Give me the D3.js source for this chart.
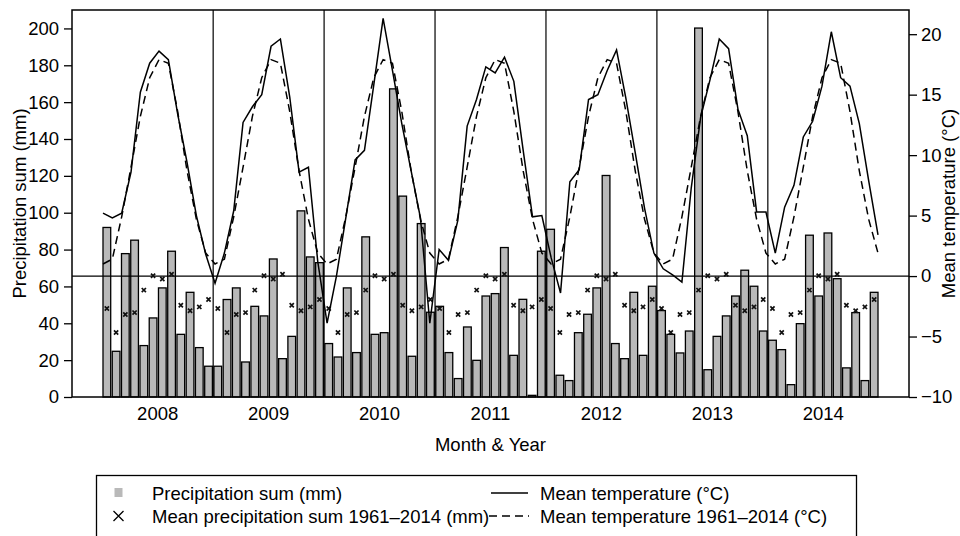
<!DOCTYPE html>
<html>
<head>
<meta charset="utf-8">
<script src="https://cdn.jsdelivr.net/npm/d3@7/dist/d3.min.js"></script>
<style>
  html, body { margin: 0; padding: 0; background: #fff; }
  svg { display: block; font-family: "Liberation Sans", Arial, Helvetica, sans-serif; }
</style>
</head>
<body>
<svg id="chart" width="960" height="536"></svg>
<script>
// Monthly climate record, Jan 2008 – Dec 2014
const years = [2008, 2009, 2010, 2011, 2012, 2013, 2014];
const months = ["Jan","Feb","Mar","Apr","May","Jun","Jul","Aug","Sep","Oct","Nov","Dec"];

// Monthly precipitation sum (mm), 84 months
const precipitation = [
  92.0, 24.8, 77.8, 85.1, 27.9, 42.9, 59.2, 79.1, 34.0, 56.8, 26.8, 16.7,
  16.7, 52.9, 59.2, 19.0, 49.2, 44.0, 74.9, 20.8, 32.9, 101.0, 76.0, 72.9,
  29.0, 21.7, 59.2, 24.1, 86.9, 34.0, 34.9, 167.2, 109.0, 22.1, 94.1, 46.0,
  49.2, 24.1, 10.0, 38.0, 19.9, 54.8, 56.1, 81.1, 22.6, 53.0, 0.9, 79.1,
  91.0, 11.8, 8.9, 34.9, 44.9, 59.2, 120.2, 29.0, 20.8, 56.8, 22.6, 60.1,
  46.9, 34.0, 23.9, 35.8, 200.2, 14.8, 32.9, 44.0, 54.8, 68.8, 60.1, 35.8,
  30.8, 25.7, 6.7, 39.8, 87.8, 54.8, 89.0, 64.2, 15.8, 45.8, 8.9, 56.8
];

// Long-term monthly mean precipitation 1961–2014 (mm)
const meanPrecipitation = [48.0, 35.0, 44.8, 45.8, 58.0, 65.8, 64.0, 66.6, 49.8, 46.8, 48.9, 52.9];

// Monthly mean temperature (°C), 84 months
const temperature = [
  5.2, 4.8, 5.2, 8.6, 15.2, 17.6, 18.6, 17.9, 13.4, 9.4, 5.0, 1.8,
  -0.6, 1.9, 5.4, 12.7, 14.0, 15.0, 19.0, 19.6, 14.8, 8.6, 9.0, 1.2,
  -3.9, 0.0, 4.8, 9.6, 10.4, 15.8, 21.3, 17.0, 12.6, 8.7, 4.8, -3.9,
  2.2, 1.3, 4.6, 12.4, 14.6, 17.3, 16.8, 18.1, 16.1, 10.4, 4.9, 5.0,
  1.5, -1.4, 7.8, 8.8, 14.6, 15.0, 17.0, 18.7, 14.7, 10.2, 5.6, 1.9,
  0.6, 0.1, -0.5, 7.3, 13.1, 16.2, 19.6, 18.8, 13.8, 11.6, 5.3, 5.3,
  1.9, 5.7, 7.5, 11.5, 12.8, 15.7, 20.2, 16.4, 15.7, 12.6, 7.9, 3.4
];

// Long-term monthly mean temperature 1961–2014 (°C)
const meanTemperature = [1.0, 1.4, 4.9, 9.0, 13.2, 16.4, 17.9, 17.6, 13.6, 8.7, 4.7, 1.9];

const precipTicks = [0, 20, 40, 60, 80, 100, 120, 140, 160, 180, 200];
const tempTicks = [-10, -5, 0, 5, 10, 15, 20];

// ---- layout ----
const plot = { left: 72, right: 909, top: 10, bottom: 397 };
const svg = d3.select("#chart");
const axisFont = 18.5, legendFont = 18.5;

const n = precipitation.length;
// bar slots: width 1 with 0.2 spacing, extended by 4% on both sides
const barSpace = 0.2, barWidth = 1;
const barLeft = i => barSpace + i * (barSpace + barWidth);
const bxMin = barLeft(0), bxMax = barLeft(n - 1) + barWidth;
const bPad = 0.04 * (bxMax - bxMin);
const xBar = d3.scaleLinear().domain([bxMin - bPad, bxMax + bPad]).range([plot.left, plot.right]);

// line series use month numbers 1..84, also with 4% padding
const lPad = 0.04 * (n - 1);
const xLine = d3.scaleLinear().domain([1 - lPad, n + lPad]).range([plot.left, plot.right]);

const yP = d3.scaleLinear().domain([0, 210]).range([plot.bottom, plot.top]);
const yT = d3.scaleLinear().domain([-10, 22]).range([plot.bottom, plot.top]);

const monthly = precipitation.map((p, i) => ({
  i, p, t: temperature[i],
  mp: meanPrecipitation[i % 12], mt: meanTemperature[i % 12]
}));

// ---- bars ----
svg.append("g").selectAll("rect").data(monthly).join("rect")
  .attr("x", d => xBar(barLeft(d.i)))
  .attr("y", d => yP(d.p))
  .attr("width", d => xBar(barLeft(d.i) + barWidth) - xBar(barLeft(d.i)))
  .attr("height", d => yP(0) - yP(d.p))
  .attr("fill", "#b9b9b9")
  .attr("stroke", "#000")
  .attr("stroke-width", 1.3);

// ---- year separators and zero line ----
const sepG = svg.append("g").attr("stroke", "#000").attr("stroke-width", 1.2);
years.slice(1).forEach((y, k) => {
  const xv = xBar(barLeft(12 * (k + 1)) - barSpace / 2);
  sepG.append("line").attr("x1", xv).attr("x2", xv).attr("y1", plot.top).attr("y2", plot.bottom);
});
sepG.append("line")
  .attr("x1", plot.left).attr("x2", plot.right)
  .attr("y1", yT(0)).attr("y2", yT(0));

// ---- long-term precipitation markers ----
const cross = (s) => `M${-s},${-s}L${s},${s}M${-s},${s}L${s},${-s}`;
svg.append("g").selectAll("path").data(monthly).join("path")
  .attr("transform", d => `translate(${xBar(barLeft(d.i) + barWidth / 2)},${yP(d.mp)})`)
  .attr("d", cross(2.1))
  .attr("fill", "none")
  .attr("stroke", "#111")
  .attr("stroke-width", 1.7);

// ---- temperature lines ----
const tLine = d3.line().x(d => xLine(d.i + 1)).y(d => yT(d.t));
const mtLine = d3.line().x(d => xLine(d.i + 1)).y(d => yT(d.mt));
svg.append("path").datum(monthly).attr("d", mtLine)
  .attr("fill", "none").attr("stroke", "#000").attr("stroke-width", 1.5)
  .attr("stroke-dasharray", "8,5");
svg.append("path").datum(monthly).attr("d", tLine)
  .attr("fill", "none").attr("stroke", "#000").attr("stroke-width", 1.5)
  .attr("stroke-linejoin", "miter");

// ---- plot frame ----
svg.append("rect")
  .attr("x", plot.left).attr("y", plot.top)
  .attr("width", plot.right - plot.left).attr("height", plot.bottom - plot.top)
  .attr("fill", "none").attr("stroke", "#000").attr("stroke-width", 1.5);

// ---- axes ----
const leftAxis = d3.axisLeft(yP).tickValues(precipTicks).tickSize(8).tickPadding(5);
const gL = svg.append("g").attr("transform", `translate(${plot.left},0)`).call(leftAxis);
const rightAxis = d3.axisRight(yT).tickValues(tempTicks).tickSize(8).tickPadding(4)
  .tickFormat(d => d < 0 ? "\u2212" + Math.abs(d) : d);
const gR = svg.append("g").attr("transform", `translate(${plot.right},0)`).call(rightAxis);
[gL, gR].forEach(g => {
  g.select(".domain").remove();
  g.selectAll("line").attr("stroke", "#000").attr("stroke-width", 1.3);
  g.selectAll("text").attr("font-size", axisFont).attr("fill", "#000")
    .attr("font-family", "'Liberation Sans', Arial, sans-serif");
});

// year labels
svg.append("g").selectAll("text").data(years).join("text")
  .attr("x", (y, k) => xBar((barLeft(12 * k) + barLeft(12 * k + 11) + barWidth) / 2))
  .attr("y", 420)
  .attr("text-anchor", "middle")
  .attr("font-size", axisFont)
  .text(d => d);

svg.append("text")
  .attr("x", (plot.left + plot.right) / 2).attr("y", 451)
  .attr("text-anchor", "middle").attr("font-size", axisFont)
  .text("Month & Year");

svg.append("text")
  .attr("transform", `translate(26,${(plot.top + plot.bottom) / 2}) rotate(-90)`)
  .attr("text-anchor", "middle").attr("font-size", axisFont)
  .text("Precipitation sum (mm)");

svg.append("text")
  .attr("transform", `translate(955,${(plot.top + plot.bottom) / 2}) rotate(-90)`)
  .attr("text-anchor", "middle").attr("font-size", axisFont)
  .text("Mean temperature (°C)");

// ---- legend ----
const lg = svg.append("g");
lg.append("rect").attr("x", 96.5).attr("y", 475.5).attr("width", 760).attr("height", 80)
  .attr("fill", "none").attr("stroke", "#000").attr("stroke-width", 1.3);
lg.append("rect").attr("x", 114.5).attr("y", 488).attr("width", 8).attr("height", 9)
  .attr("fill", "#b9b9b9");
lg.append("path").attr("transform", "translate(118.5,516)").attr("d", cross(5))
  .attr("fill", "none").attr("stroke", "#000").attr("stroke-width", 1.3);
lg.append("line").attr("x1", 491).attr("x2", 528).attr("y1", 493).attr("y2", 493)
  .attr("stroke", "#000").attr("stroke-width", 1.5);
lg.append("line").attr("x1", 489).attr("x2", 529).attr("y1", 516).attr("y2", 516)
  .attr("stroke", "#000").attr("stroke-width", 1.5).attr("stroke-dasharray", "8,5");
const legendItems = [
  { x: 152, y: 499.5, t: "Precipitation sum (mm)" },
  { x: 152, y: 522.5, t: "Mean precipitation sum 1961\u20132014 (mm)" },
  { x: 540, y: 499.5, t: "Mean temperature (°C)" },
  { x: 540, y: 522.5, t: "Mean temperature 1961\u20132014 (°C)" }
];
lg.selectAll("text.item").data(legendItems).join("text")
  .attr("class", "item")
  .attr("x", d => d.x).attr("y", d => d.y)
  .attr("font-size", legendFont)
  .text(d => d.t);
</script>
</body>
</html>
